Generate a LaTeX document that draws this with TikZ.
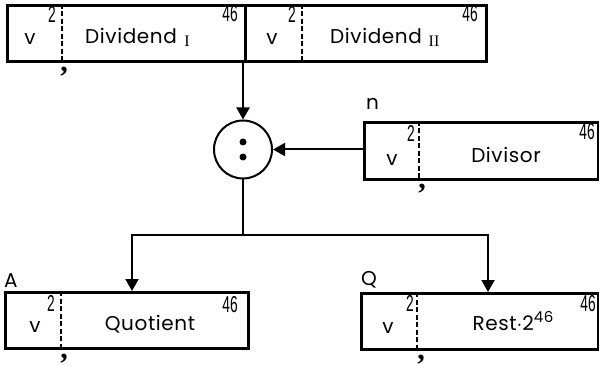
\documentclass[tikz,border=0pt]{standalone}
\usepackage{fontspec}
\setmainfont{Poppins}
\newfontfamily\labfont[LetterSpace=3]{Poppins}
\newfontfamily\serifsub{Liberation Serif}
\newfontfamily\numfont{Liberation Sans}
\usetikzlibrary{arrows.meta}
\newcommand\narrownum[1]{\scalebox{0.6}[1]{#1}}
\begin{document}
\begin{tikzpicture}[x=1pt,y=-1pt,
  box/.style={draw, line width=3pt, anchor=north west, inner sep=0pt, minimum height=56pt},
  divline/.style={line width=1.5pt, dash pattern=on 5pt off 2.5pt},
  solidline/.style={line width=3pt},
  conn/.style={line width=2pt},
  arr/.style={conn, -{Triangle[length=12pt,width=13pt]}},
  lbl/.style={font=\labfont\fontsize{20}{20}\selectfont, inner sep=0pt, anchor=base},
  vlbl/.style={font=\fontsize{20}{20}\selectfont, inner sep=0pt, anchor=base},
  num/.style={font=\numfont\fontsize{23}{23}\selectfont, inner sep=0pt, anchor=north east},
  sub/.style={font=\serifsub\fontsize{16}{16}\selectfont, inner sep=0pt, anchor=base},
  reg/.style={font=\fontsize{20}{20}\selectfont, inner sep=0pt, anchor=base west},
  commamark/.style={font=\serifsub\bfseries\fontsize{30}{30}\selectfont, inner sep=0pt, anchor=base}
]
\useasboundingbox (0,0) rectangle (599,366);

% Dividend box
\node[box, minimum width=479pt] (dvd) at (6,4) {};
\draw[divline] (62,4) -- (62,60);
\draw[solidline] (245,4) -- (245,60);
\draw[divline] (302,4) -- (302,60);
\node[vlbl] (dv1) at (30,45) {v};
\node[num] (d21) at (56,6) {\narrownum{2}};
\node[lbl] (dt1) at (131,44) {Dividend};
\node[sub] (ds1) at (187,47) {I};
\node[num] (d461) at (238,5) {\narrownum{46}};
\node[vlbl] (dv2) at (272,45) {v};
\node[num] (d22) at (296,6) {\narrownum{2}};
\node[lbl] (dt2) at (376,44) {Dividend};
\node[sub] (ds2) at (434,47) {II};
\node[num] (d462) at (478,5) {\narrownum{46}};
\node[commamark] (dc) at (64,72) {,};

% Divisor box
\node[box, minimum width=234pt, minimum height=57pt] (dvs) at (363,121) {};
\draw[divline] (419,121) -- (419,178);
\node[reg] (nl) at (366,110) {n};
\node[vlbl] (vv) at (392,165) {v};
\node[num] (v2) at (415,125) {\narrownum{2}};
\node[lbl] (vt) at (506,163) {Divisor};
\node[num] (v46) at (595,123) {\narrownum{46}};
\node[commamark] (vc) at (422,188) {,};

% operator
\node[draw, circle, line width=2pt, minimum size=58pt, inner sep=0pt] (op) at (243,149.5) {};
\fill ([yshift=7.5pt]op.center) circle (3.5pt);
\fill ([yshift=-7.5pt]op.center) circle (3.5pt);

% Quotient box
\node[box, minimum width=243pt] (quo) at (4,291) {};
\draw[divline] (61,291) -- (61,347);
\node[reg] (al) at (4,287) {A};
\node[vlbl] (qv) at (35,332) {v};
\node[num] (q2) at (55,295) {\narrownum{2}};
\node[lbl] (qt) at (150,330) {Quotient};
\node[num] (q46) at (238,296) {\narrownum{46}};
\node[commamark] (qc) at (64,358) {,};

% Rest box
\node[box, minimum width=237pt] (rst) at (360,292) {};
\draw[divline] (417,292) -- (417,348);
\node[reg] (ql) at (361,285) {Q};
\node[vlbl] (rv) at (388,333) {v};
\node[num] (r2) at (414,295) {\narrownum{2}};
\node[lbl] (rt) at (513,330) {Rest$\cdot$2\raisebox{8pt}{\fontsize{15}{15}\selectfont 46}};
\node[num] (r46) at (596,295) {\narrownum{46}};
\node[commamark] (rc) at (421,359) {,};

% connectors
\coordinate (ja) at (132,235);
\coordinate (jb) at (488,235);
\draw[arr] (op.north |- dvd.south) -- (op.north);
\draw[arr] (dvs.west |- op.east) -- (op.east);
\draw[conn] (op.south) -- (op.south |- ja);
\draw[arr] (op.south |- ja) -- (ja) -- (ja |- quo.north);
\draw[arr] (op.south |- ja) -- (jb) -- (jb |- rst.north);
\end{tikzpicture}
\end{document}
